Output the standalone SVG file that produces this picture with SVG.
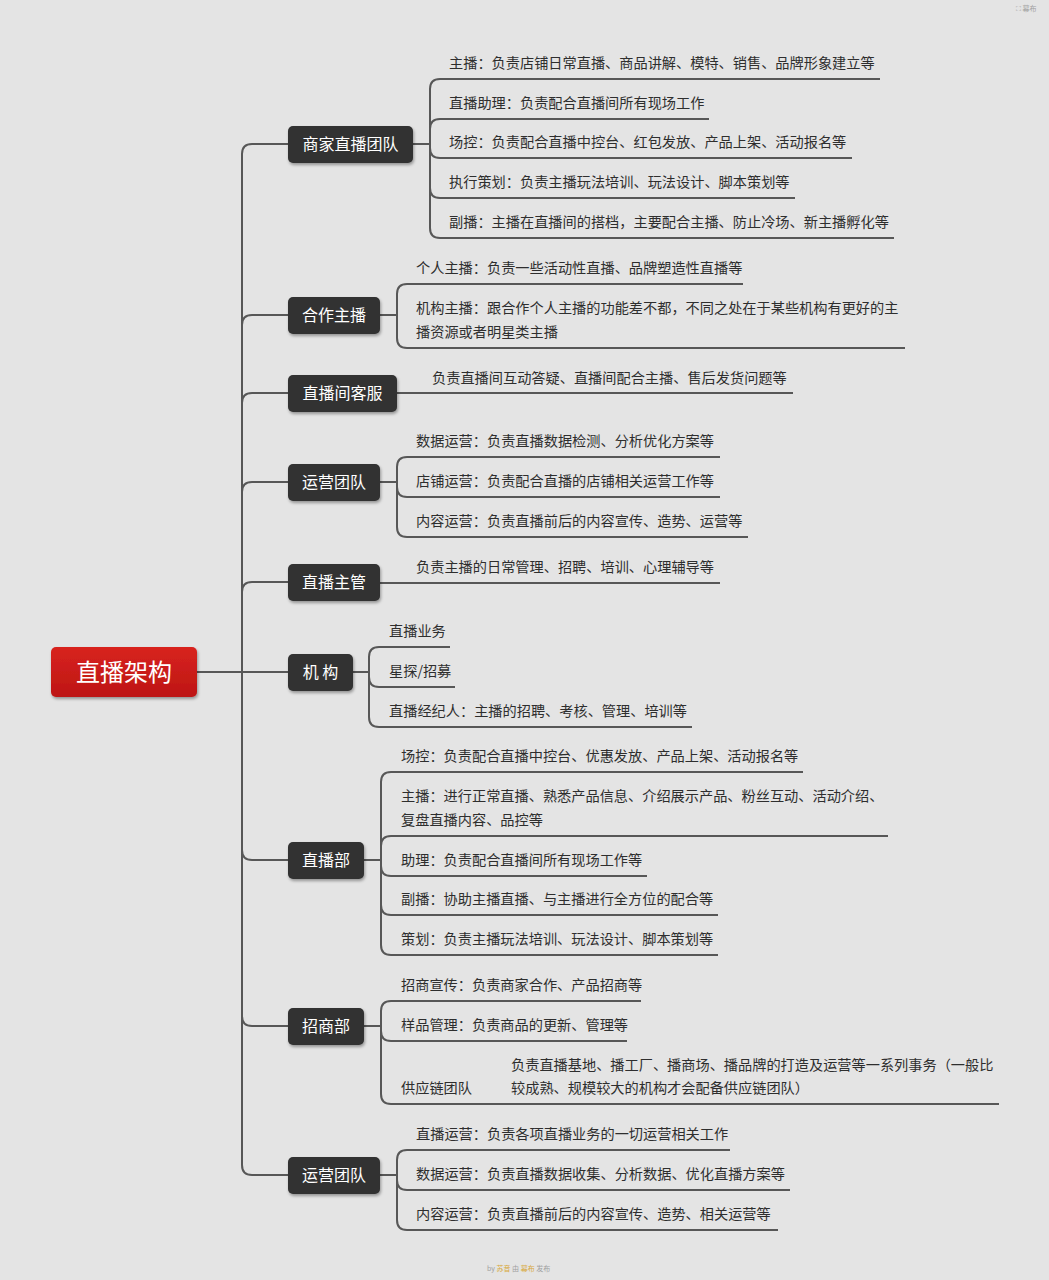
<svg xmlns="http://www.w3.org/2000/svg" width="1049" height="1280" viewBox="0 0 1049 1280">
<defs>
<filter id="sh" x="-20%" y="-30%" width="140%" height="170%"><feDropShadow dx="1" dy="2" stdDeviation="1.5" flood-color="#000" flood-opacity="0.35"/></filter>
<linearGradient id="red" x1="0" y1="0" x2="0" y2="1"><stop offset="0" stop-color="#d8231f"/><stop offset="1" stop-color="#bd1614"/></linearGradient>
</defs>
<style>
.bg{fill:#e4e4e4}
.ln{fill:none;stroke:#575757;stroke-width:2}
.node rect{fill:#303030;filter:url(#sh)}
.nt{font-family:"Noto Sans CJK SC","Noto Sans",sans-serif;font-size:16px;fill:#ffffff;text-anchor:middle}
.ct{font-family:"Noto Sans CJK SC","Noto Sans",sans-serif;font-size:14.2px;fill:#2e2e2e}
.wm{font-family:"Noto Sans CJK SC","Noto Sans",sans-serif;font-size:7px;fill:#a0a0a0}
</style>
<rect class="bg" x="0" y="0" width="1049" height="1280"/>
<text class="wm" x="1016" y="11">⛶ 幕布</text>
<text class="wm" x="487" y="1271">by <tspan fill="#d8a93a">苏音</tspan> 由 <tspan fill="#d8a93a">幕布</tspan> 发布</text>

<g id="connectors">
<!-- root to spine / 机构 -->
<path class="ln" d="M197 672 H288"/>
<!-- main spine -->
<path class="ln" d="M242 672 V154 Q242 144 252 144 H288"/>
<path class="ln" d="M242 672 V325 Q242 315 252 315 H288"/>
<path class="ln" d="M242 672 V403 Q242 393 252 393 H288"/>
<path class="ln" d="M242 672 V492 Q242 482 252 482 H288"/>
<path class="ln" d="M242 672 V592 Q242 582 252 582 H288"/>
<path class="ln" d="M242 672 V850 Q242 860 252 860 H288"/>
<path class="ln" d="M242 672 V1016 Q242 1026 252 1026 H288"/>
<path class="ln" d="M242 672 V1165 Q242 1175 252 1175 H288"/>
<!-- group 1 -->
<path class="ln" d="M413 144 H430"/>
<path class="ln" d="M430 144 V89 Q430 79 440 79 H880"/>
<path class="ln" d="M430 144 V129 Q430 119 440 119 H709"/>
<path class="ln" d="M430 144 V148 Q430 158 440 158 H852"/>
<path class="ln" d="M430 144 V188 Q430 198 440 198 H795"/>
<path class="ln" d="M430 144 V228 Q430 238 440 238 H894"/>
<!-- group 2 -->
<path class="ln" d="M380 315 H397"/>
<path class="ln" d="M397 315 V294 Q397 284 407 284 H743"/>
<path class="ln" d="M397 315 V338 Q397 348 407 348 H905"/>
<!-- group 3 -->
<path class="ln" d="M397 393 H793"/>
<!-- group 4 -->
<path class="ln" d="M380 482 H397"/>
<path class="ln" d="M397 482 V467 Q397 457 407 457 H720"/>
<path class="ln" d="M397 482 V487 Q397 497 407 497 H720"/>
<path class="ln" d="M397 482 V527 Q397 537 407 537 H748"/>
<!-- group 5 -->
<path class="ln" d="M380 583 H720"/>
<!-- group 6 -->
<path class="ln" d="M353 672 H369"/>
<path class="ln" d="M369 672 V657 Q369 647 379 647 H450"/>
<path class="ln" d="M369 672 V677 Q369 687 379 687 H455"/>
<path class="ln" d="M369 672 V717 Q369 727 379 727 H692"/>
<!-- group 7 -->
<path class="ln" d="M364 860 H381"/>
<path class="ln" d="M381 860 V782 Q381 772 391 772 H803"/>
<path class="ln" d="M381 860 V846 Q381 836 391 836 H888"/>
<path class="ln" d="M381 860 V866 Q381 876 391 876 H647"/>
<path class="ln" d="M381 860 V905 Q381 915 391 915 H718"/>
<path class="ln" d="M381 860 V945 Q381 955 391 955 H718"/>
<!-- group 8 -->
<path class="ln" d="M364 1026 H381"/>
<path class="ln" d="M381 1026 V1011 Q381 1001 391 1001 H641"/>
<path class="ln" d="M381 1026 V1031 Q381 1041 391 1041 H627"/>
<path class="ln" d="M381 1026 V1094 Q381 1104 391 1104 H999"/>
<!-- group 9 -->
<path class="ln" d="M380 1175 H397"/>
<path class="ln" d="M397 1175 V1160 Q397 1150 407 1150 H730"/>
<path class="ln" d="M397 1175 V1180 Q397 1190 407 1190 H790"/>
<path class="ln" d="M397 1175 V1220 Q397 1230 407 1230 H778"/>
</g>

<g id="root">
<rect x="51" y="647" width="146" height="50" rx="5" fill="url(#red)" filter="url(#sh)"/>
<text x="124" y="680.5" font-family="&quot;Noto Sans CJK SC&quot;,sans-serif" font-size="24" fill="#fff" text-anchor="middle">直播架构</text>
</g>

<g id="n1" class="node"><rect x="288" y="126" width="125" height="37" rx="5"/><text class="nt" x="350.5" y="150">商家直播团队</text></g>
<g id="n1c">
<text class="ct" x="449" y="68">主播：负责店铺日常直播、商品讲解、模特、销售、品牌形象建立等</text>
<text class="ct" x="449" y="108">直播助理：负责配合直播间所有现场工作</text>
<text class="ct" x="449" y="147">场控：负责配合直播中控台、红包发放、产品上架、活动报名等</text>
<text class="ct" x="449" y="187">执行策划：负责主播玩法培训、玩法设计、脚本策划等</text>
<text class="ct" x="449" y="227">副播：主播在直播间的搭档，主要配合主播、防止冷场、新主播孵化等</text>
</g>

<g id="n2" class="node"><rect x="288" y="297" width="92" height="37" rx="5"/><text class="nt" x="334" y="321">合作主播</text></g>
<g id="n2c">
<text class="ct" x="416" y="273">个人主播：负责一些活动性直播、品牌塑造性直播等</text>
<text class="ct" x="416" y="313">机构主播：跟合作个人主播的功能差不都，不同之处在于某些机构有更好的主</text>
<text class="ct" x="416" y="337">播资源或者明星类主播</text>
</g>

<g id="n3" class="node"><rect x="288" y="375" width="109" height="37" rx="5"/><text class="nt" x="342.5" y="399">直播间客服</text></g>
<g id="n3c"><text class="ct" x="432" y="383">负责直播间互动答疑、直播间配合主播、售后发货问题等</text></g>

<g id="n4" class="node"><rect x="288" y="464" width="92" height="37" rx="5"/><text class="nt" x="334" y="488">运营团队</text></g>
<g id="n4c">
<text class="ct" x="416" y="446">数据运营：负责直播数据检测、分析优化方案等</text>
<text class="ct" x="416" y="486">店铺运营：负责配合直播的店铺相关运营工作等</text>
<text class="ct" x="416" y="526">内容运营：负责直播前后的内容宣传、造势、运营等</text>
</g>

<g id="n5" class="node"><rect x="288" y="564" width="92" height="37" rx="5"/><text class="nt" x="334" y="588">直播主管</text></g>
<g id="n5c"><text class="ct" x="416" y="572">负责主播的日常管理、招聘、培训、心理辅导等</text></g>

<g id="n6" class="node"><rect x="288" y="654" width="65" height="37" rx="5"/><text class="nt" x="320.5" y="678">机 构</text></g>
<g id="n6c">
<text class="ct" x="389" y="636">直播业务</text>
<text class="ct" x="389" y="676">星探/招募</text>
<text class="ct" x="389" y="716">直播经纪人：主播的招聘、考核、管理、培训等</text>
</g>

<g id="n7" class="node"><rect x="288" y="842" width="76" height="37" rx="5"/><text class="nt" x="326" y="866">直播部</text></g>
<g id="n7c">
<text class="ct" x="401" y="761">场控：负责配合直播中控台、优惠发放、产品上架、活动报名等</text>
<text class="ct" x="401" y="801">主播：进行正常直播、熟悉产品信息、介绍展示产品、粉丝互动、活动介绍、</text>
<text class="ct" x="401" y="825">复盘直播内容、品控等</text>
<text class="ct" x="401" y="865">助理：负责配合直播间所有现场工作等</text>
<text class="ct" x="401" y="904">副播：协助主播直播、与主播进行全方位的配合等</text>
<text class="ct" x="401" y="944">策划：负责主播玩法培训、玩法设计、脚本策划等</text>
</g>

<g id="n8" class="node"><rect x="288" y="1008" width="76" height="37" rx="5"/><text class="nt" x="326" y="1032">招商部</text></g>
<g id="n8c">
<text class="ct" x="401" y="990">招商宣传：负责商家合作、产品招商等</text>
<text class="ct" x="401" y="1030">样品管理：负责商品的更新、管理等</text>
<text class="ct" x="401" y="1093">供应链团队</text>
<text class="ct" x="511" y="1070">负责直播基地、播工厂、播商场、播品牌的打造及运营等一系列事务（一般比</text>
<text class="ct" x="511" y="1093">较成熟、规模较大的机构才会配备供应链团队）</text>
</g>

<g id="n9" class="node"><rect x="288" y="1157" width="92" height="37" rx="5"/><text class="nt" x="334" y="1181">运营团队</text></g>
<g id="n9c">
<text class="ct" x="416" y="1139">直播运营：负责各项直播业务的一切运营相关工作</text>
<text class="ct" x="416" y="1179">数据运营：负责直播数据收集、分析数据、优化直播方案等</text>
<text class="ct" x="416" y="1219">内容运营：负责直播前后的内容宣传、造势、相关运营等</text>
</g>
</svg>
